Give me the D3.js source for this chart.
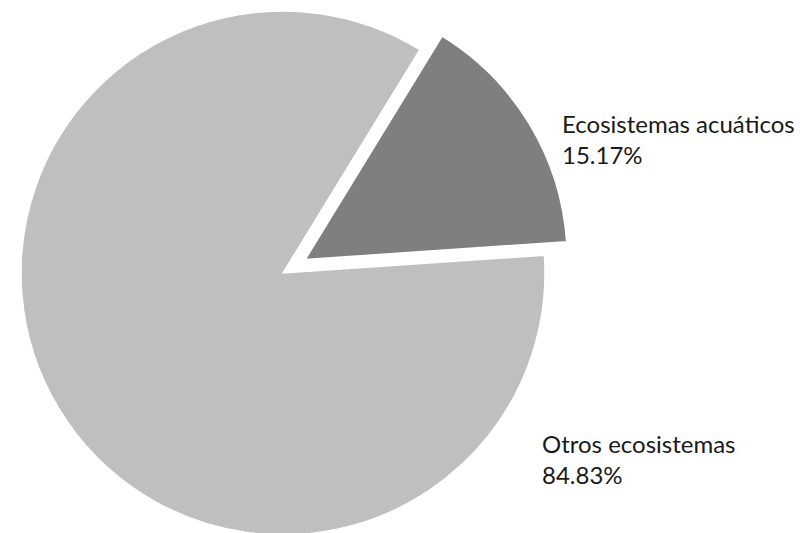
<!DOCTYPE html>
<meta charset="utf-8">
<style>
  body { margin: 0; background: #fff; }
  .label { font-family: Lato, "Open Sans", sans-serif; font-size: 24px; fill: #1a1a1a; }
</style>
<body>
<script src="https://d3js.org/d3.v7.min.js"></script>
<script>

  // data
  var categories = ["Ecosistemas acuáticos", "Otros ecosistemas"];
  var values = [15.17, 84.83];
  var valueLabels = ["15.17%", "84.83%"];
  var colors = ["#7f7f7f", "#bfbfbf"];

  var width = 802, height = 533;
  var cx = 283, cy = 273, radius = 262;
  var explode = [26, 0];   // pull-out distance of each slice
  var startDeg = 31.5;

  var svg = d3.select("body").append("svg")
    .attr("width", width)
    .attr("height", height);

  var g = svg.append("g")
    .attr("transform", "translate(" + cx + "," + cy + ")");

  var pie = d3.pie()
    .sort(null)
    .startAngle(startDeg * Math.PI / 180)
    .endAngle(startDeg * Math.PI / 180 + 2 * Math.PI);

  var arc = d3.arc().innerRadius(0).outerRadius(radius);

  var arcs = pie(values);

  g.selectAll("path")
    .data(arcs)
    .enter().append("path")
    .attr("d", arc)
    .attr("fill", function(d, i) { return colors[i]; })
    .attr("stroke", "#fff")
    .attr("stroke-width", 1.5)
    .attr("transform", function(d, i) {
      var a = (d.startAngle + d.endAngle) / 2;
      return "translate(" + (explode[i] * Math.sin(a)) + "," + (-explode[i] * Math.cos(a)) + ")";
    });

  // labels (two lines each)
  var labelPos = [[562, 133], [542, 453]];
  var lineGap = 31;

  categories.forEach(function(c, i) {
    var t = svg.append("text")
      .attr("class", "label")
      .attr("x", labelPos[i][0])
      .attr("y", labelPos[i][1]);
    t.append("tspan").attr("x", labelPos[i][0]).text(c);
    t.append("tspan").attr("x", labelPos[i][0]).attr("dy", lineGap).text(valueLabels[i]);
  });

</script>
</body>
